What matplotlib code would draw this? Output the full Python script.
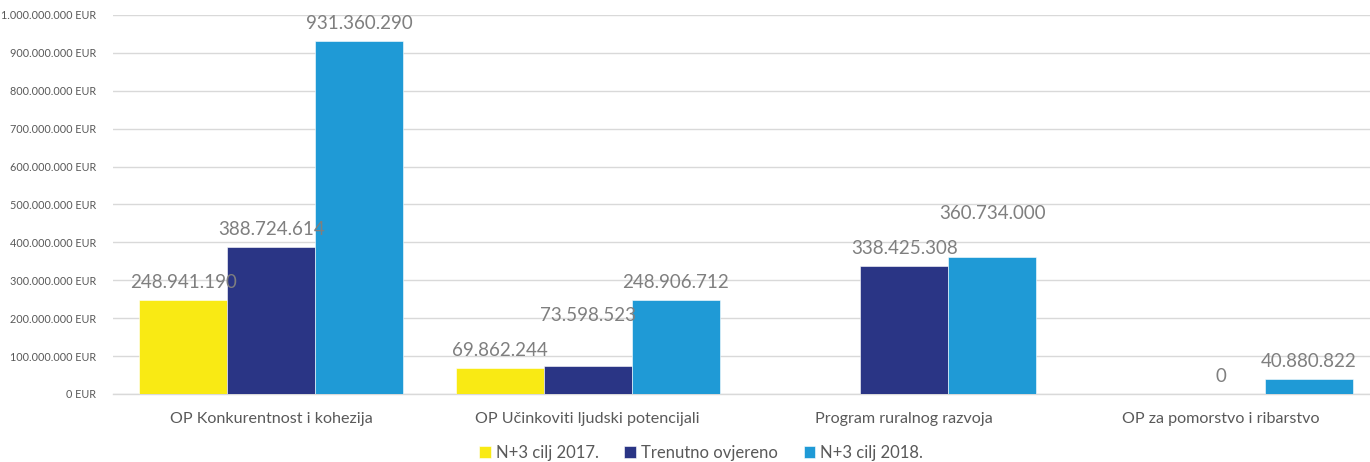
import numpy as np
import matplotlib.pyplot as plt
from matplotlib.ticker import FuncFormatter

categories = [
    "OP Konkurentnost i kohezija",
    "OP Učinkoviti ljudski potencijali",
    "Program ruralnog razvoja",
    "OP za pomorstvo i ribarstvo",
]
series_names = ["N+3 cilj 2017.", "Trenutno ovjereno", "N+3 cilj 2018."]
cilj_2017 = [248941190, 69862244, np.nan, np.nan]
ovjereno = [388724614, 73598523, 338425308, 0]
cilj_2018 = [931360290, 248906712, 360734000, 40880822]

COLORS = ["#F9EA14", "#2A3585", "#1F9AD6"]
TEXT_GREY = "#7F7F7F"
# some labels were dragged higher in the original
LABEL_RAISE = {(1, 1): 24, (2, 2): 19}

plt.rcParams["font.family"] = ["Lato", "DejaVu Sans"]

fig = plt.figure(figsize=(13.7, 4.62), dpi=100)
W, H = 1370, 462
ax = fig.add_axes([113 / W, 68 / H, (W - 113) / W, 379 / H])

x = np.arange(len(categories))
bw = 0.278
all_series = [cilj_2017, ovjereno, cilj_2018]

for si, (vals, color, name) in enumerate(zip(all_series, COLORS, series_names)):
    xs = x + (si - 1) * bw
    ax.bar(xs, vals, width=bw, color=color, label=name, zorder=3,
           edgecolor="white", linewidth=0.4)
    for gi, v in enumerate(vals):
        if np.isnan(v):
            continue
        lab = f"{int(v):,}".replace(",", ".")
        dy = 12.5 + LABEL_RAISE.get((gi, si), 0)
        ax.annotate(lab, xy=(xs[gi], v), xytext=(0, dy),
                    textcoords="offset points", ha="center", va="center",
                    fontsize=13.5, color=TEXT_GREY, zorder=5)

ax.set_ylim(0, 1e9)
ax.set_xlim(-0.5, -0.5 + (W - 113) / 316.5)
ax.set_yticks(np.arange(0, 1.0e9 + 1, 1e8))
ax.yaxis.set_major_formatter(
    FuncFormatter(lambda v, p: f"{int(round(v)):,}".replace(",", ".") + " EUR"))
ax.set_xticks(x)
ax.set_xticklabels(categories)
ax.tick_params(axis="y", length=0, pad=12, labelsize=7.8, labelcolor="#595959")
ax.tick_params(axis="x", length=0, pad=13, labelsize=11.6, labelcolor="#595959")

ax.grid(axis="y", color="#D9D9D9", linewidth=1, zorder=0)
for s in ["top", "right", "left"]:
    ax.spines[s].set_visible(False)
ax.spines["bottom"].set_color("#D9D9D9")
ax.spines["bottom"].set_linewidth(1)

fig.legend(loc="center", bbox_to_anchor=(701 / W, 1 - 453 / H), ncol=3,
           frameon=False, fontsize=12.0, handlelength=0.7, handleheight=0.7,
           handletextpad=0.3, columnspacing=1.55, labelcolor="#595959")

fig.savefig("out.png", dpi=100)
